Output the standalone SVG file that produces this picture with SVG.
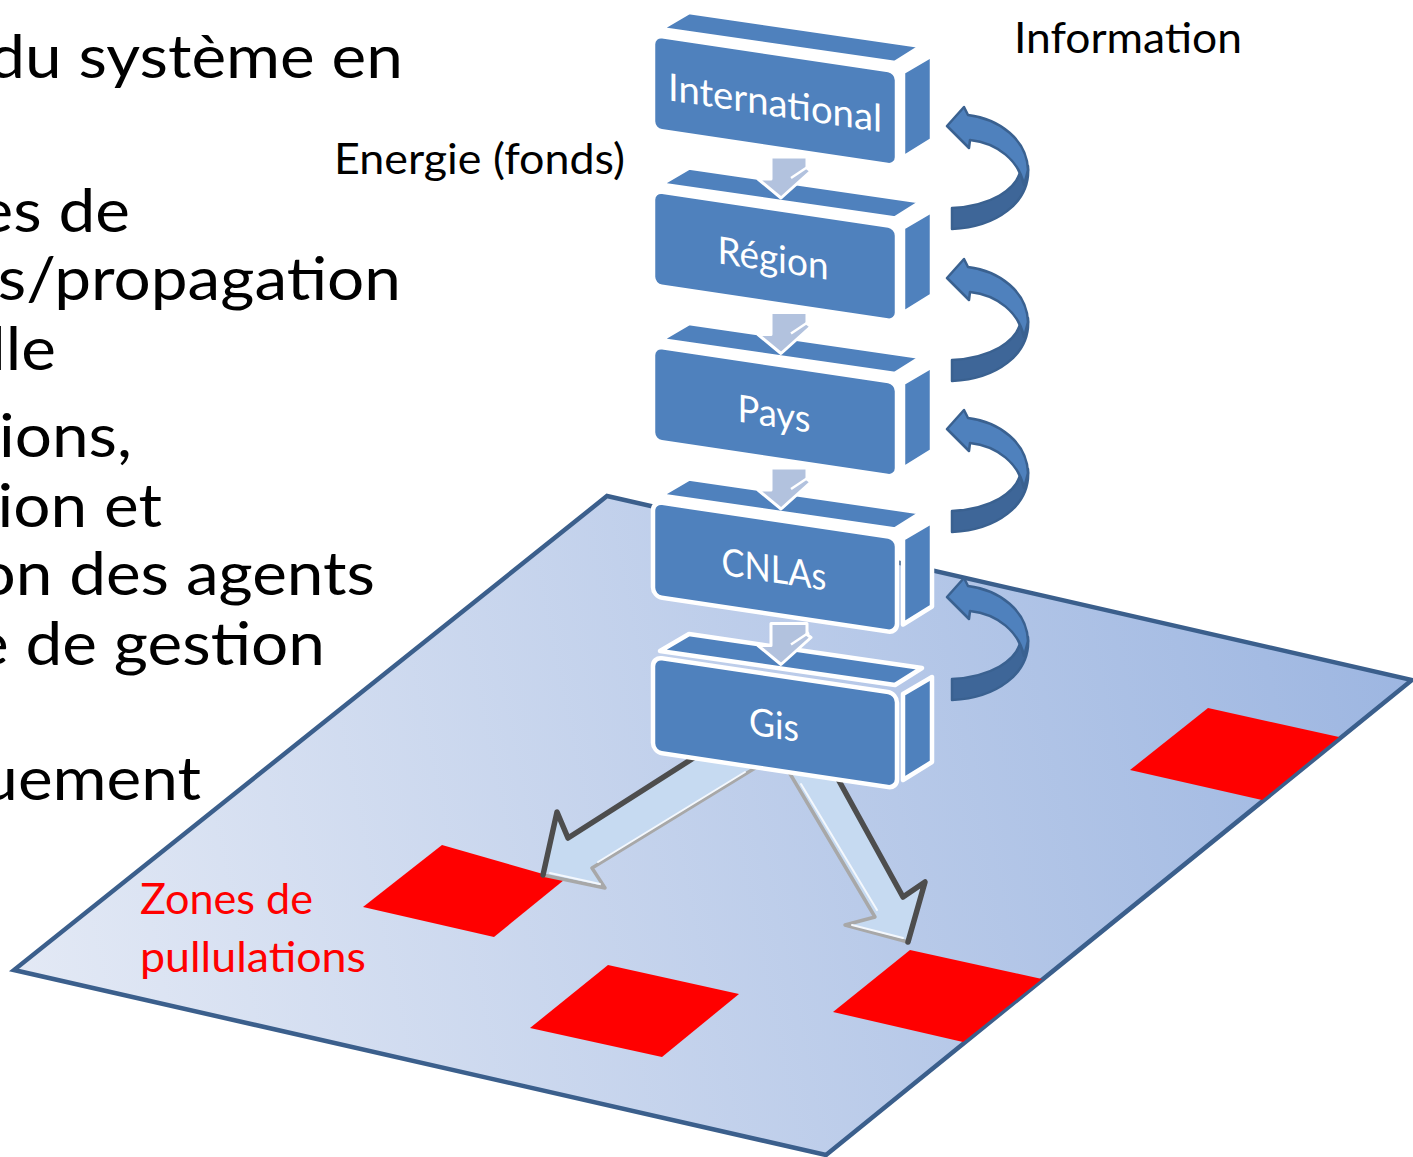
<svg xmlns="http://www.w3.org/2000/svg" xmlns:xlink="http://www.w3.org/1999/xlink" width="1413" height="1157" viewBox="0 0 1413 1157">
<defs>
<linearGradient id="planeGrad" gradientUnits="userSpaceOnUse" x1="14" y1="970" x2="1413" y2="680">
<stop offset="0" stop-color="#E3E9F5"/>
<stop offset="1" stop-color="#9DB6E1"/>
</linearGradient>
<style>
.face{fill:#4F81BD;stroke:#FFFFFF;stroke-width:4.5;stroke-linejoin:round}
.lbl{font-family:Lato,"Open Sans",sans-serif;font-size:38px;fill:#FFFFFF;text-anchor:middle}
.big{font-family:Lato,"Open Sans",sans-serif;font-size:60px;fill:#000000;text-anchor:end}
.mid{font-family:Lato,"Open Sans",sans-serif;font-size:43px;fill:#000000}
.red{font-family:Lato,"Open Sans",sans-serif;font-size:43px;fill:#FF0000}
.zone{fill:#FF0000}
.curlL{fill:#4F81BD;stroke:#3A6190;stroke-width:2.5;stroke-linejoin:round}
.curlD{fill:#3E6698;stroke:#3A6190;stroke-width:2.5;stroke-linejoin:round}
.small{fill:#B2C2DE;stroke:#FFFFFF;stroke-width:3;stroke-linejoin:round}
.bigArrow{fill:#C6DAF1;stroke:#A8A8A8;stroke-width:3.5;stroke-linejoin:round}
.dark{fill:none;stroke:#4D4D4D;stroke-width:5.5;stroke-linejoin:round;stroke-linecap:round}
.hl{fill:none;stroke:#F4F8FD;stroke-width:2;stroke-linecap:round}
</style>
<g id="curl">
<path class="curlD" d="M1028,166 C1031,203 996,227 952,229 L952,208 C990,206 1018,190 1021,168 Z"/>
<path class="curlL" d="M968,115 C1000,119 1027,140 1028,170 L1024,185 C1019,161 998,143 970,140 L969,148 L947,126 L964,107 Z"/>
</g>
<g id="smallArrow">
<polygon class="small" points="771,157 807,157 807,168 811,171 781,198 758,179 771,179"/>
<line x1="791" y1="178" x2="809" y2="166" stroke="#FFFFFF" stroke-width="2.5"/>
</g>
</defs>

<rect width="1413" height="1157" fill="#FFFFFF"/>

<g id="plane">
<polygon points="607,496 1412,680 826,1155 14,970" fill="url(#planeGrad)" stroke="#3B5F8C" stroke-width="4.5"/>
</g>

<g id="zones">
<polygon class="zone" points="442,845 564,880 494,937 363,907"/>
<polygon class="zone" points="608,965 739,994 662,1057 530,1028"/>
<polygon class="zone" points="910,950 1042,979 963,1042 833,1012"/>
<polygon class="zone" points="1208,708 1339,737 1262,800 1130,770"/>
</g>

<g id="connectors-down">
<g id="arrow-left">
<polygon class="bigArrow" points="695,757 568,838 557,812 543,875 605,888 592,868 760,765"/>
<polyline class="dark" points="695,757 568,838 557,812 543,875"/>
<line class="hl" x1="598" y1="862" x2="745" y2="772"/>
<line class="hl" x1="550" y1="873" x2="600" y2="884"/>
</g>
<g id="arrow-right">
<polygon class="bigArrow" points="789,772 875,917 845,925 908,942 925,882 903,897 838,779"/>
<polyline class="dark" points="838,779 903,897 925,882 908,942"/>
<line class="hl" x1="801" y1="784" x2="877" y2="910"/>
<line class="hl" x1="852" y1="925" x2="903" y2="938"/>
</g>
</g>

<g id="node-international">
<path class="face" d="M660,29 L689,12 L922,46 L895,63 Z"/>
<path class="face" d="M903,72 L932,55 L932,140 L903,158 Z"/>
<g transform="translate(653,35) skewY(8.5)">
<rect class="face" width="244" height="95" rx="9"/>
<text class="lbl" x="122" y="63" textLength="214" lengthAdjust="spacingAndGlyphs">International</text>
</g>
</g>

<g id="node-region" transform="translate(0,155.5)">
<path class="face" d="M660,29 L689,12 L922,46 L895,63 Z"/>
<path class="face" d="M903,72 L932,55 L932,140 L903,158 Z"/>
<g transform="translate(653,35) skewY(8.5)">
<rect class="face" width="244" height="95" rx="9"/>
<text class="lbl" x="120" y="63" textLength="111" lengthAdjust="spacingAndGlyphs">Région</text>
</g>
</g>

<g id="node-pays" transform="translate(0,311)">
<path class="face" d="M660,29 L689,12 L922,46 L895,63 Z"/>
<path class="face" d="M903,72 L932,55 L932,140 L903,158 Z"/>
<g transform="translate(653,35) skewY(8.5)">
<rect class="face" width="244" height="95" rx="9"/>
<text class="lbl" x="121" y="63" textLength="73" lengthAdjust="spacingAndGlyphs">Pays</text>
</g>
</g>

<g id="node-cnlas" transform="translate(0,466.5)">
<path class="face" d="M660,29 L689,12 L922,46 L895,63 Z"/>
<path class="face" d="M903,72 L932,55 L932,140 L903,158 Z"/>
<g transform="translate(653,35) skewY(8.5)">
<rect class="face" width="244" height="95" rx="9"/>
<text class="lbl" x="121" y="63" textLength="105" lengthAdjust="spacingAndGlyphs">CNLAs</text>
</g>
</g>

<g id="node-gis" transform="translate(0,622)">
<path class="face" d="M660,29 L689,12 L922,46 L895,63 Z"/>
<path class="face" d="M903,72 L932,55 L932,140 L903,158 Z"/>
<g transform="translate(653,35) skewY(8.5)">
<rect class="face" width="244" height="95" rx="9"/>
<text class="lbl" x="121" y="63" textLength="50" lengthAdjust="spacingAndGlyphs">Gis</text>
</g>
</g>

<g id="connectors">
<use xlink:href="#smallArrow"/>
<use xlink:href="#smallArrow" transform="translate(0,155.5)"/>
<use xlink:href="#smallArrow" transform="translate(0,311)"/>
<use xlink:href="#smallArrow" transform="translate(0,466.5)"/>
<use xlink:href="#curl"/>
<use xlink:href="#curl" transform="translate(0,152)"/>
<use xlink:href="#curl" transform="translate(0,303)"/>
<use xlink:href="#curl" transform="translate(0,471)"/>
</g>

<g id="labels">
<text class="mid" x="1014" y="53" textLength="228" lengthAdjust="spacingAndGlyphs">Information</text>
<text class="mid" x="334" y="174" textLength="291" lengthAdjust="spacingAndGlyphs">Energie (fonds)</text>
<text class="red" x="140" y="914" textLength="173" lengthAdjust="spacingAndGlyphs">Zones de</text>
<text class="red" x="140" y="972" textLength="226" lengthAdjust="spacingAndGlyphs">pullulations</text>
</g>

<g id="body-text" transform="scale(1.095,1)">
<text class="big" x="368" y="78">du système en</text>
<text class="big" x="118.7" y="232">es de</text>
<text class="big" x="366.2" y="300">s/propagation</text>
<text class="big" x="51.1" y="370">lle</text>
<text class="big" x="120.5" y="457">ions,</text>
<text class="big" x="148" y="527">ion et</text>
<text class="big" x="342.5" y="595">on des agents</text>
<text class="big" x="296.8" y="665">e de gestion</text>
<text class="big" x="183.6" y="800">uement</text>
</g>
</svg>
